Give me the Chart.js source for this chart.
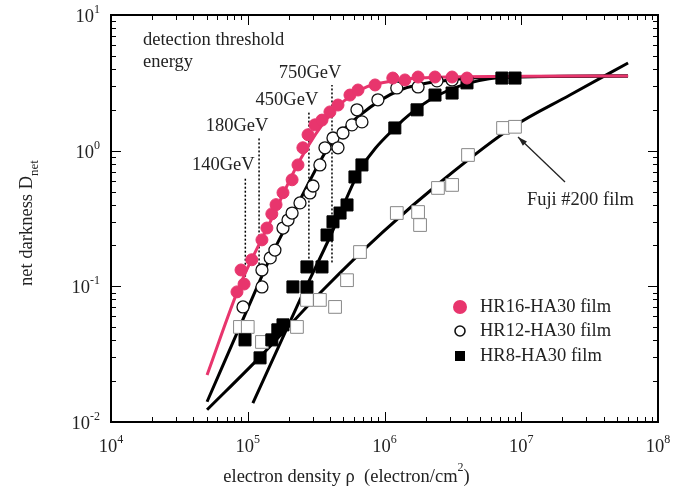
<!DOCTYPE html>
<html>
<head>
<meta charset="utf-8">
<script src="https://cdn.jsdelivr.net/npm/chart.js@4/dist/chart.umd.min.js"></script>
<style>
  html, body { margin: 0; padding: 0; background: #fff; }
  canvas { display: block; }
</style>
</head>
<body>
<canvas id="chart" width="682" height="488"></canvas>
<script>
// electron density (electron/cm2) vs net darkness
var hr16X = [8.34e4, 8.93e4, 9.4e4, 1.07e5, 1.27e5, 1.38e5, 1.50e5, 1.61e5, 1.81e5, 2.11e5, 2.33e5, 2.53e5, 2.76e5,
  3.10e5, 3.49e5, 3.99e5, 4.57e5, 5.59e5, 6.40e5, 8.53e5, 1.15e6, 1.41e6, 1.76e6, 2.34e6, 3.12e6, 4.01e6];
var hr16Y = [0.091, 0.132, 0.104, 0.157, 0.22, 0.269, 0.342, 0.40, 0.49, 0.61, 0.785, 1.05, 1.31,
  1.55, 1.68, 1.93, 2.17, 2.57, 2.80, 3.05, 3.43, 3.32, 3.49, 3.49, 3.49, 3.43];

var hr12X = [9.23e4, 1.27e5, 1.27e5, 1.46e5, 1.58e5, 1.81e5, 1.97e5, 2.11e5, 2.41e5, 2.85e5, 3.00e5, 3.37e5,
  3.67e5, 4.20e5, 4.57e5, 4.97e5, 5.78e5, 6.29e5, 6.84e5, 8.95e5, 1.23e6, 1.76e6, 2.42e6, 3.12e6];
var hr12Y = [0.0705, 0.099, 0.132, 0.162, 0.185, 0.269, 0.308, 0.347, 0.412, 0.488, 0.549, 0.785,
  1.05, 1.24, 1.05, 1.35, 1.55, 2.0, 1.63, 2.37, 2.90, 2.95, 3.27, 3.32];

var hr8X = [9.55e4, 1.23e5, 1.50e5, 1.66e5, 1.81e5, 2.14e5, 2.71e5, 2.71e5, 3.49e5, 3.80e5, 4.20e5, 4.73e5,
  5.32e5, 6.08e5, 6.84e5, 1.19e6, 1.73e6, 2.34e6, 3.12e6, 4.01e6, 7.22e6, 9.0e6];
var hr8Y = [0.0403, 0.0297, 0.0403, 0.0478, 0.052, 0.099, 0.099, 0.139, 0.139, 0.239, 0.299, 0.347,
  0.398, 0.64, 0.785, 1.47, 2.0, 2.57, 2.66, 3.16, 3.43, 3.43];

var fujiX = [8.77e4, 1.00e5, 1.27e5, 2.29e5, 2.71e5, 3.37e5, 4.35e5, 5.32e5, 6.62e5, 1.23e6, 1.76e6, 1.82e6,
  2.46e6, 3.12e6, 4.08e6, 7.36e6, 9.0e6];
var fujiY = [0.0502, 0.0502, 0.0389, 0.0502, 0.0794, 0.0794, 0.0705, 0.111, 0.179, 0.347, 0.353, 0.283,
  0.531, 0.559, 0.929, 1.47, 1.50];

// fitted response curves
var hr16FitX = [5.04e4, 8.77e4, 1.46e5, 2.41e5, 3.99e5, 6.62e5, 1.30e6, 3.01e6, 6.04e7];
var hr16FitY = [0.0222, 0.102, 0.299, 0.853, 1.83, 2.80, 3.32, 3.49, 3.55];
var hr12FitX = [5.04e4, 9.89e4, 1.46e5, 2.41e5, 3.99e5, 6.62e5, 1.30e6, 3.01e6, 7.0e6, 6.04e7];
var hr12FitY = [0.0141, 0.067, 0.162, 0.434, 1.10, 1.83, 2.80, 3.32, 3.49, 3.55];
var hr8FitX = [1.09e5, 2.41e5, 3.99e5, 6.62e5, 1.19e6, 2.15e6, 4.2e6, 8.28e6, 6.04e7];
var hr8FitY = [0.0138, 0.0794, 0.231, 0.721, 1.47, 2.37, 3.16, 3.49, 3.55];
var fujiFitX = [5.04e4, 1.23e5, 3.55e5, 9.75e5, 2.68e6, 8.71e6, 2.27e7, 6.04e7];
var fujiFitY = [0.0123, 0.0302, 0.094, 0.252, 0.608, 1.50, 2.57, 4.43];

// detection threshold energies
var thresholdLabels = ['140GeV', '180GeV', '450GeV', '750GeV'];
var thresholdX = [9.6e4, 1.21e5, 2.8e5, 4.13e5];
var thresholdTop = [0.64, 1.24, 1.93, 3.05];
var thresholdBottom = [0.11, 0.145, 0.16, 0.15];

var xTickExp = [4, 5, 6, 7, 8];
var yTickExp = [-2, -1, 0, 1];

var PINK = '#e8356d';
var SERIF = '"Liberation Serif", "Times New Roman", serif';
var FS = '18.5px ';

function pts(xs, ys) {
  return xs.map(function (x, i) { return { x: x, y: ys[i] }; });
}

var datasets = [
  { label: 'HR16-HA30 film', data: pts(hr16X, hr16Y), pointStyle: 'circle', pointRadius: 6,
    backgroundColor: PINK, borderColor: PINK, borderWidth: 1, showLine: false, order: 0 },
  { label: 'HR12-HA30 film', data: pts(hr12X, hr12Y), pointStyle: 'circle', pointRadius: 6,
    backgroundColor: '#fff', borderColor: '#111', borderWidth: 1.3, showLine: false, order: 1 },
  { label: 'HR8-HA30 film', data: pts(hr8X, hr8Y), pointStyle: 'rect', pointRadius: 8.5,
    backgroundColor: '#000', borderColor: '#000', borderWidth: 1, showLine: false, order: 1 },
  { label: 'Fuji #200 film', data: pts(fujiX, fujiY), pointStyle: 'rect', pointRadius: 9,
    backgroundColor: '#fff', borderColor: '#888', borderWidth: 1, showLine: false, order: 1 }
];

[[hr16FitX, hr16FitY, PINK], [hr12FitX, hr12FitY, '#000'], [hr8FitX, hr8FitY, '#000'], [fujiFitX, fujiFitY, '#000']]
  .forEach(function (f) {
    datasets.push({ data: pts(f[0], f[1]), showLine: true, pointRadius: 0, borderColor: f[2],
      borderWidth: 3, cubicInterpolationMode: 'monotone', fill: false, order: 2 });
  });

thresholdX.forEach(function (x, i) {
  datasets.push({ data: [{ x: x, y: thresholdBottom[i] }, { x: x, y: thresholdTop[i] }], showLine: true,
    pointRadius: 0, borderColor: '#000', borderWidth: 1.5, borderDash: [2, 2], order: 3 });
});

function powLabel(ctx, exp, x, y, align) {
  ctx.font = FS + SERIF;
  var bw = ctx.measureText('10').width;
  ctx.font = '12px ' + SERIF;
  var ew = ctx.measureText(exp).width;
  var left = align === 'right' ? x - bw - ew : x - (bw + ew) / 2;
  ctx.textAlign = 'left';
  ctx.textBaseline = 'middle';
  ctx.font = FS + SERIF;
  ctx.fillText('10', left, y);
  ctx.font = '12px ' + SERIF;
  ctx.fillText(exp, left + bw, y - 7);
}

function seg(ctx, x1, y1, x2, y2) {
  ctx.beginPath();
  ctx.moveTo(x1, y1);
  ctx.lineTo(x2, y2);
  ctx.stroke();
}

var decoPlugin = {
  id: 'deco',
  afterDraw: function (chart) {
    var ctx = chart.ctx, a = chart.chartArea;
    var xs = chart.scales.x, ys = chart.scales.y;
    ctx.save();
    ctx.strokeStyle = '#000';
    ctx.fillStyle = '#222';

    // inward ticks on all four sides
    ctx.lineWidth = 1;
    for (var d = 4; d < 8; d++) {
      for (var m = 1; m <= 9; m++) {
        var px = Math.round(xs.getPixelForValue(m * Math.pow(10, d))) + 0.5;
        var len = m === 1 ? 10 : 5;
        seg(ctx, px, a.bottom, px, a.bottom - len);
        seg(ctx, px, a.top, px, a.top + len);
      }
    }
    for (d = -2; d < 1; d++) {
      for (m = 1; m <= 9; m++) {
        var py = Math.round(ys.getPixelForValue(m * Math.pow(10, d))) + 0.5;
        len = m === 1 ? 10 : 5;
        seg(ctx, a.left, py, a.left + len, py);
        seg(ctx, a.right, py, a.right - len, py);
      }
    }
    ctx.lineWidth = 2;
    ctx.strokeRect(a.left, a.top, a.right - a.left, a.bottom - a.top);

    // tick labels
    xTickExp.forEach(function (e) {
      powLabel(ctx, String(e), xs.getPixelForValue(Math.pow(10, e)), a.bottom + 25, 'center');
    });
    yTickExp.forEach(function (e) {
      powLabel(ctx, String(e), a.left - 11, ys.getPixelForValue(Math.pow(10, e)) + 2, 'right');
    });

    // axis titles
    ctx.textBaseline = 'middle';
    ctx.textAlign = 'left';
    ctx.font = FS + SERIF;
    var t1 = 'electron density \u03c1  (electron/cm';
    var w1 = ctx.measureText(t1).width;
    ctx.font = '12px ' + SERIF;
    var w2 = ctx.measureText('2').width;
    ctx.font = FS + SERIF;
    var w3 = ctx.measureText(')').width;
    var tx = (a.left + a.right) / 2 - (w1 + w2 + w3) / 2 - 38;
    ctx.fillText(t1, tx, 477);
    ctx.font = '12px ' + SERIF;
    ctx.fillText('2', tx + w1, 468);
    ctx.font = FS + SERIF;
    ctx.fillText(')', tx + w1 + w2, 477);

    ctx.save();
    ctx.translate(27, 223);
    ctx.rotate(-Math.PI / 2);
    ctx.font = FS + SERIF;
    var y1 = 'net darkness D';
    var yw = ctx.measureText(y1).width;
    ctx.font = '13px ' + SERIF;
    var yw2 = ctx.measureText('net').width;
    var yl = -(yw + yw2) / 2;
    ctx.font = FS + SERIF;
    ctx.fillText(y1, yl, 0);
    ctx.font = '13px ' + SERIF;
    ctx.fillText('net', yl + yw, 8);
    ctx.restore();

    // threshold annotations
    ctx.font = FS + SERIF;
    ctx.textAlign = 'left';
    ctx.fillText('detection threshold', a.left + 32, a.top + 25);
    ctx.fillText('energy', a.left + 32, a.top + 47);
    ctx.textAlign = 'center';
    thresholdX.forEach(function (x, i) {
      ctx.fillText(thresholdLabels[i], xs.getPixelForValue(x) - 22, ys.getPixelForValue(thresholdTop[i]) - 12);
    });

    // Fuji annotation with arrow
    var tipX = xs.getPixelForValue(9.47e6), tipY = ys.getPixelForValue(1.26);
    var tailX = xs.getPixelForValue(2.09e7), tailY = ys.getPixelForValue(0.588);
    ctx.lineWidth = 1.3;
    ctx.strokeStyle = '#222';
    seg(ctx, tailX, tailY, tipX, tipY);
    var ang = Math.atan2(tipY - tailY, tipX - tailX);
    ctx.beginPath();
    ctx.moveTo(tipX, tipY);
    ctx.lineTo(tipX - 10 * Math.cos(ang - 0.3), tipY - 10 * Math.sin(ang - 0.3));
    ctx.lineTo(tipX - 10 * Math.cos(ang + 0.3), tipY - 10 * Math.sin(ang + 0.3));
    ctx.closePath();
    ctx.fillStyle = '#222';
    ctx.fill();
    ctx.textAlign = 'left';
    ctx.fillText('Fuji #200 film', xs.getPixelForValue(1.10e7), ys.getPixelForValue(0.434));

    // legend
    var legendY = [307, 331, 356];
    var lx = 460;
    ctx.fillStyle = PINK;
    ctx.beginPath();
    ctx.arc(lx, legendY[0], 7, 0, Math.PI * 2);
    ctx.fill();
    ctx.fillStyle = '#fff';
    ctx.strokeStyle = '#111';
    ctx.lineWidth = 1.6;
    ctx.beginPath();
    ctx.arc(lx, legendY[1], 5, 0, Math.PI * 2);
    ctx.fill();
    ctx.stroke();
    ctx.fillStyle = '#000';
    ctx.fillRect(lx - 5, legendY[2] - 5, 10, 10);
    ctx.fillStyle = '#222';
    ctx.font = FS + SERIF;
    ctx.textBaseline = 'middle';
    ['HR16-HA30 film', 'HR12-HA30 film', 'HR8-HA30 film'].forEach(function (t, i) {
      ctx.fillText(t, lx + 20, legendY[i]);
    });
    ctx.restore();
  }
};

new Chart(document.getElementById('chart').getContext('2d'), {
  type: 'scatter',
  data: { datasets: datasets },
  options: {
    responsive: false,
    animation: false,
    layout: { padding: { left: 111, top: 15, right: 24, bottom: 66 } },
    plugins: { legend: { display: false }, tooltip: { enabled: false } },
    scales: {
      x: { type: 'logarithmic', min: 1e4, max: 1e8, display: false },
      y: { type: 'logarithmic', min: 0.01, max: 10, display: false }
    }
  },
  plugins: [decoPlugin]
});
</script>
</body>
</html>
